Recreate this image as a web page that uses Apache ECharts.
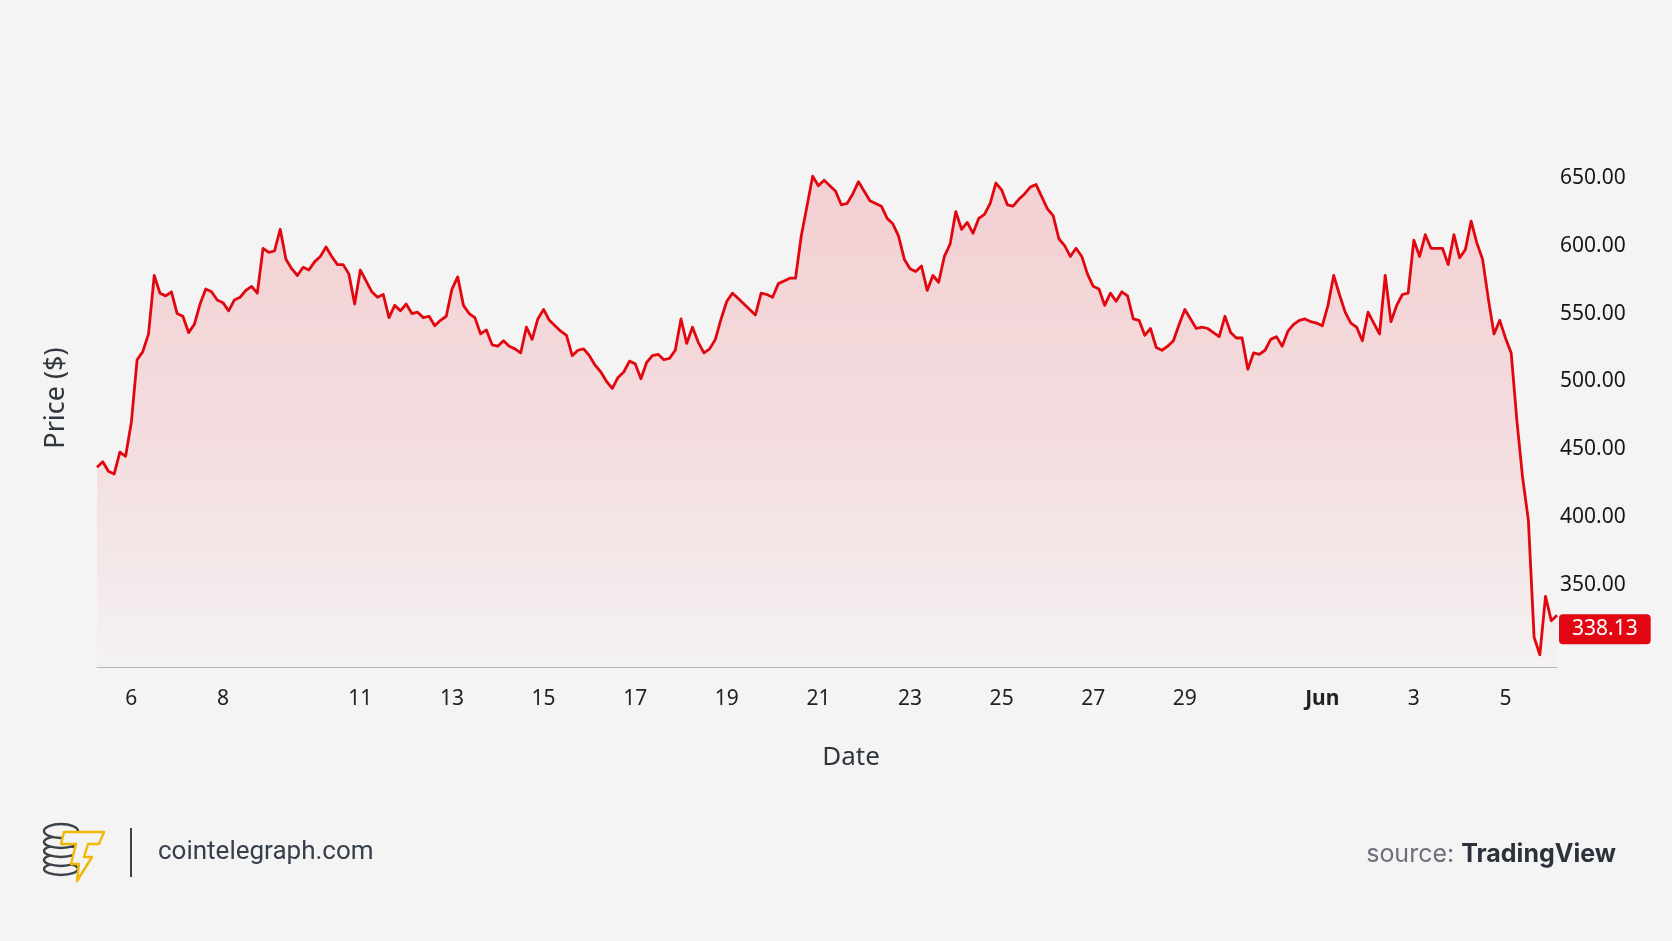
<!DOCTYPE html>
<html>
<head>
<meta charset="utf-8">
<title>Price chart</title>
<script src="https://cdn.jsdelivr.net/npm/echarts/dist/echarts.min.js"></script>
<style>
    html, body { margin: 0; padding: 0; background: #f4f4f4; }
    #chart { width: 1672px; height: 941px; }
</style>
</head>
<body>
<div id="chart"></div>
<script>
// 3-hour closes, starting May 5 06:00
var startTime = Date.UTC(2024, 4, 5, 6);
var stepHours = 3;
var prices = [
    437, 441, 434, 432, 448, 445, 470, 516, 522, 535, 578, 565, 563, 566, 550, 548,
    536, 542, 557, 568, 566, 560, 558, 552, 560, 562, 567, 570, 565, 598, 595, 596,
    612, 590, 583, 578, 584, 582, 588, 592, 599, 592, 586, 586, 579, 557, 582, 574,
    566, 562, 564, 547, 556, 552, 557, 550, 551, 547, 548, 541, 545, 548, 568, 577,
    556, 550, 547, 535, 538, 527, 526, 530, 526, 524, 521, 540, 531, 546, 553, 545,
    541, 537, 534, 519, 523, 524, 519, 512, 507, 500, 495, 503, 507, 515, 513, 502,
    514, 519, 520, 516, 517, 523, 546, 528, 540, 529, 521, 524, 531, 546, 559, 565,
    561, 557, 553, 549, 565, 564, 562, 572, 574, 576, 576, 607, 629, 651, 644, 648,
    644, 640, 630, 631, 638, 647, 640, 633, 631, 629, 620, 616, 607, 590, 583, 581,
    585, 567, 578, 573, 592, 601, 625, 612, 617, 609, 620, 623, 631, 646, 641, 630,
    629, 634, 638, 643, 645, 636, 627, 622, 605, 600, 592, 598, 592, 579, 570, 568,
    556, 565, 559, 566, 563, 546, 545, 534, 539, 525, 523, 526, 530, 542, 553, 546,
    539, 540, 539, 536, 533, 548, 536, 532, 532, 509, 521, 520, 523, 531, 533, 526,
    537, 542, 545, 546, 544, 543, 541, 556, 578, 564, 551, 543, 540, 530, 551, 543,
    535, 578, 544, 556, 564, 565, 604, 592, 608, 598, 598, 598, 586, 608, 591, 597,
    618, 602, 590, 561, 535, 545, 532, 521, 471, 429, 398, 312, 299, 342, 324, 328
];
var lastPrice = '338.13';

// date labels along the bottom
var tickDays = ['05-06', '05-08', '05-11', '05-13', '05-15', '05-17', '05-19', '05-21',
    '05-23', '05-25', '05-27', '05-29', '06-01', '06-03', '06-05'];
var tickLabels = ['6', '8', '11', '13', '15', '17', '19', '21',
    '23', '25', '27', '29', 'Jun', '3', '5'];

var priceTicks = [350, 400, 450, 500, 550, 600, 650];

function pad(n) {
    return n < 10 ? '0' + n : '' + n;
}

var categories = [];
for (var i = 0; i < prices.length; i++) {
    var d = new Date(startTime + i * stepHours * 3600 * 1000);
    categories.push(pad(d.getUTCMonth() + 1) + '-' + pad(d.getUTCDate()) + ' ' + pad(d.getUTCHours()) + ':00');
}

function tickIndex(value) {
    if (value.slice(6) !== '00:00') return -1;
    return tickDays.indexOf(value.slice(0, 5));
}

var FONT = '"Noto Sans", "DejaVu Sans", sans-serif';
var BG = '#f4f4f4';
var COIN = { fill: BG, stroke: '#3d434a', lineWidth: 2.4 };

var myChart = echarts.init(document.getElementById('chart'), null, { renderer: 'canvas' });
var option = {
    backgroundColor: BG,
    animation: false,
    grid: {
        left: 97,
        right: 115,
        top: 164,
        bottom: 274,
        outerBoundsMode: 'none'
    },
    xAxis: {
        type: 'category',
        data: categories,
        boundaryGap: false,
        axisLine: { lineStyle: { color: '#b8b8b8', width: 1 } },
        axisTick: { show: false },
        splitLine: { show: false },
        axisLabel: {
            interval: function (index, value) {
                return tickIndex(value) >= 0;
            },
            formatter: function (value) {
                var t = tickIndex(value);
                if (t < 0) return '';
                return tickLabels[t] === 'Jun' ? '{b|Jun}' : tickLabels[t];
            },
            rich: {
                b: { fontWeight: 'bold', fontSize: 21, color: '#222', fontFamily: FONT }
            },
            margin: 22,
            color: '#222',
            fontSize: 21,
            fontFamily: FONT
        }
    },
    yAxis: {
        type: 'value',
        position: 'right',
        min: 290,
        max: 660,
        interval: 10,
        splitLine: { show: false },
        axisLine: { show: false },
        axisTick: { show: false },
        axisLabel: {
            margin: 3,
            color: '#161616',
            fontSize: 21,
            fontFamily: FONT,
            formatter: function (v) {
                return priceTicks.indexOf(v) >= 0 ? v.toFixed(2) : '';
            }
        }
    },
    series: [
        {
            type: 'line',
            data: prices,
            symbol: 'none',
            smooth: false,
            lineStyle: { color: '#e2060f', width: 2.8, join: 'round' },
            areaStyle: {
                color: new echarts.graphic.LinearGradient(0, 0, 0, 1, [
                    { offset: 0, color: 'rgba(238, 70, 85, 0.30)' },
                    { offset: 0.55, color: 'rgba(238, 70, 85, 0.19)' },
                    { offset: 1, color: 'rgba(238, 70, 85, 0.02)' }
                ])
            },
            endLabel: {
                show: true,
                formatter: function () { return lastPrice; },
                distance: 2,
                offset: [0, 14],
                backgroundColor: '#e30613',
                borderRadius: 4,
                padding: [4, 13],
                lineHeight: 22,
                color: '#fff',
                fontSize: 21,
                fontFamily: FONT
            }
        }
    ],
    graphic: [
        {
            type: 'text',
            x: 56,
            y: 398,
            rotation: Math.PI / 2,
            style: {
                text: 'Price ($)',
                fill: '#30363e',
                font: '27px ' + FONT,
                textAlign: 'center',
                textVerticalAlign: 'middle'
            }
        },
        {
            type: 'text',
            x: 851,
            y: 758,
            style: {
                text: 'Date',
                fill: '#30363e',
                font: '26px ' + FONT,
                textAlign: 'center',
                textVerticalAlign: 'middle'
            }
        },
        /* logo: coin stack, bottom one first */
        { type: 'ellipse', shape: { cx: 61, cy: 869, rx: 17, ry: 6 }, style: COIN },
        { type: 'ellipse', shape: { cx: 61, cy: 860, rx: 17, ry: 6 }, style: COIN },
        { type: 'ellipse', shape: { cx: 61, cy: 851, rx: 17, ry: 6 }, style: COIN },
        { type: 'ellipse', shape: { cx: 61, cy: 842, rx: 17, ry: 6 }, style: COIN },
        { type: 'ellipse', shape: { cx: 61, cy: 831, rx: 17, ry: 7 }, style: COIN },
        /* logo: T bolt */
        {
            type: 'polygon',
            shape: {
                points: [[64, 832], [104, 832], [99, 844], [88, 844], [84, 857], [92, 857], [77, 881], [79, 864], [71, 864], [76, 844], [61, 844]]
            },
            style: { fill: BG, stroke: '#f2b705', lineWidth: 2.4, lineJoin: 'round' }
        },
        {
            type: 'line',
            shape: { x1: 131, y1: 828, x2: 131, y2: 877 },
            style: { stroke: '#3d434a', lineWidth: 2 }
        },
        {
            type: 'text',
            x: 158,
            y: 852,
            style: {
                text: 'cointelegraph.com',
                fill: '#37404a',
                font: '26px Roboto, sans-serif',
                textVerticalAlign: 'middle'
            }
        },
        {
            type: 'text',
            x: 1616,
            y: 854,
            style: {
                text: '{s|source: }{t|TradingView}',
                textAlign: 'right',
                textVerticalAlign: 'middle',
                rich: {
                    s: { fill: '#6b7079', font: '25px Inter, sans-serif' },
                    t: { fill: '#2b323b', font: 'bold 25px Inter, sans-serif' }
                }
            }
        }
    ]
};
myChart.setOption(option);
</script>
</body>
</html>
